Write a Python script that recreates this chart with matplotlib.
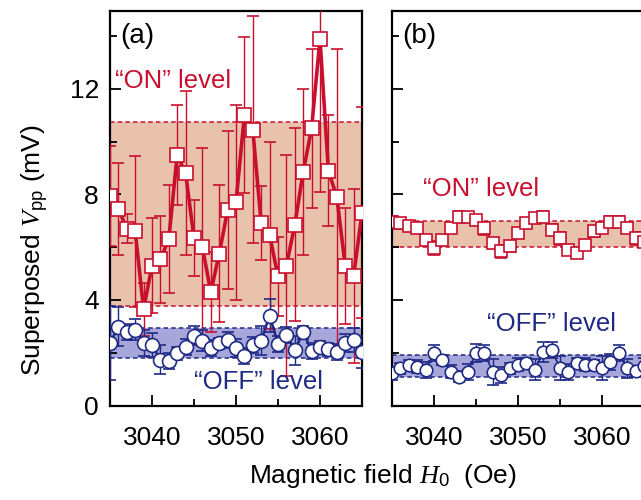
import matplotlib
matplotlib.use("Agg")
import matplotlib.pyplot as plt

plt.rcParams['font.family'] = ['Liberation Sans', 'DejaVu Sans']
plt.rcParams['mathtext.fontset'] = 'custom'
plt.rcParams['mathtext.rm'] = 'Liberation Sans'
plt.rcParams['mathtext.it'] = 'Liberation Serif:italic'

# magnetic field sweep (Oe)
field = [3035, 3036, 3037, 3038, 3039, 3040, 3041, 3042, 3043, 3044,
         3045, 3046, 3047, 3048, 3049, 3050, 3051, 3052, 3053, 3054,
         3055, 3056, 3057, 3058, 3059, 3060, 3061, 3062, 3063, 3064, 3065]

# panel (a): superposed Vpp (mV)
on_a = [7.95, 7.45, 6.7, 6.6, 3.65, 5.3, 5.55, 6.3, 9.5, 8.8,
        6.35, 6.0, 4.3, 5.75, 7.4, 7.7, 11.0, 10.45, 6.9, 6.45,
        4.9, 5.3, 6.85, 8.85, 10.5, 13.9, 8.9, 7.9, 5.3, 4.9, 7.3]
on_a_err = [1.9, 1.75, 0.55, 2.85, 1.0, 1.8, 1.65, 2.05, 1.9, 3.1,
            1.45, 3.75, 1.5, 2.6, 3.0, 3.7, 2.95, 4.3, 1.4, 3.55,
            1.5, 4.2, 3.65, 3.15, 3.0, 5.8, 2.1, 5.6, 2.2, 3.3, 4.0]
off_a = [2.36, 2.99, 2.8, 2.87, 2.38, 2.3, 1.73, 1.69, 1.98, 2.23,
         2.65, 2.46, 2.17, 2.36, 2.49, 2.17, 1.89, 2.3, 2.46, 3.41,
         2.34, 2.68, 2.1, 2.78, 2.07, 2.23, 2.13, 2.02, 2.36, 2.49, 2.04]
off_a_err = [1.4, 0.75, 0.3, 0.4, 0.5, 0.45, 0.55, 0.3, 0.25, 0.3,
             0.35, 0.4, 0.3, 0.2, 0.3, 0.35, 0.3, 0.3, 0.55, 0.62,
             0.3, 0.3, 0.55, 0.25, 0.3, 0.2, 0.25, 0.3, 0.35, 0.45, 0.6]

# panel (b)
on_b = [6.97, 6.9, 6.8, 6.72, 6.28, 5.97, 6.28, 6.72, 7.16, 7.16,
        7.03, 6.72, 6.16, 5.84, 6.03, 6.53, 6.91, 7.1, 7.16, 6.66,
        6.34, 5.9, 5.78, 6.09, 6.6, 6.72, 6.97, 6.97, 6.72, 6.34, 6.2]
on_b_err = [0.2, 0.2, 0.15, 0.2, 0.2, 0.25, 0.2, 0.2, 0.2, 0.15,
            0.2, 0.25, 0.2, 0.25, 0.2, 0.2, 0.15, 0.2, 0.2, 0.2,
            0.25, 0.2, 0.2, 0.2, 0.2, 0.15, 0.2, 0.2, 0.2, 0.25, 0.2]
off_b = [1.22, 1.41, 1.54, 1.47, 1.35, 1.98, 1.73, 1.28, 1.09, 1.28,
         1.98, 1.98, 1.28, 1.16, 1.41, 1.54, 1.6, 1.35, 2.04, 2.1,
         1.41, 1.28, 1.6, 1.54, 1.54, 1.41, 1.66, 1.98, 1.41, 1.3, 1.5]
off_b_err = [0.25, 0.2, 0.2, 0.25, 0.3, 0.3, 0.2, 0.25, 0.2, 0.3,
             0.35, 0.3, 0.5, 0.3, 0.2, 0.25, 0.2, 0.4, 0.38, 0.3,
             0.45, 0.3, 0.2, 0.25, 0.2, 0.45, 0.3, 0.3, 0.35, 0.2, 0.3]

# level bands (lower, upper)
on_band_a = (3.78, 10.73)
off_band_a = (1.8, 2.94)
on_band_b = (6.0, 7.01)
off_band_b = (1.07, 1.92)

RED = '#c8102e'
BLUE = '#1f2a85'
RED_FILL = '#e8c2ab'
BLUE_FILL = '#a6a6da'

fig = plt.figure(figsize=(6.41, 5.0), dpi=100)
ax_a = fig.add_axes([110/641, 1-405.5/500, 252/641, 394.5/500])
ax_b = fig.add_axes([392/641, 1-405.5/500, 252/641, 394.5/500])


def draw_panel(ax, on, on_err, off, off_err, on_band, off_band, sq_lw, c_lw, ms):
    ax.axhspan(on_band[0], on_band[1], color=RED_FILL, lw=0, zorder=0)
    ax.axhspan(off_band[0], off_band[1], color=BLUE_FILL, lw=0, zorder=0)
    for y in on_band:
        ax.axhline(y, color=RED, lw=1.1, ls=(0, (3, 2)), zorder=1)
    for y in off_band:
        ax.axhline(y, color=BLUE, lw=1.1, ls=(0, (3, 2)), zorder=1)
    ax.errorbar(field, on, yerr=on_err, color=RED, lw=sq_lw, marker='s', ms=ms,
                mfc='white', mec=RED, mew=1.2, ecolor=RED, elinewidth=1.0,
                capsize=4.5, capthick=1.0, zorder=3)
    ax.errorbar(field, off, yerr=off_err, color=BLUE, lw=c_lw, marker='o', ms=ms + 0.5,
                mfc='white', mec=BLUE, mew=1.2, ecolor=BLUE, elinewidth=1.0,
                capsize=4.5, capthick=1.0, zorder=4)
    ax.set_xlim(3035, 3065)
    ax.set_ylim(0, 14.95)
    ax.set_xticks([3040, 3050, 3060])
    ax.set_xticks([3045, 3055], minor=True)
    ax.set_yticks([0, 4, 8, 12])
    ax.set_yticks([2, 6, 10, 14], minor=True)
    ax.tick_params(which='both', direction='in', top=False, right=False,
                   width=1.3, labelsize=19)
    ax.tick_params(which='major', length=8)
    ax.tick_params(which='minor', length=5)
    ax.tick_params(axis='x', pad=15)
    ax.tick_params(axis='y', pad=8)
    for sp in ax.spines.values():
        sp.set_linewidth(1.6)


draw_panel(ax_a, on_a, on_a_err, off_a, off_a_err, on_band_a, off_band_a, 2.6, 1.8, 9.5)
draw_panel(ax_b, on_b, on_b_err, off_b, off_b_err, on_band_b, off_band_b, 1.0, 1.2, 8.5)
ax_b.set_yticklabels([])

ax_a.text(0.04, 0.97, '(a)', transform=ax_a.transAxes, fontsize=20, va='top', ha='left')
ax_b.text(0.04, 0.97, '(b)', transform=ax_b.transAxes, fontsize=20, va='top', ha='left')

ax_a.text(3035.6, 12.3, '\u201cON\u201d level', color=RED, fontsize=18.5, va='center', ha='left')
ax_a.text(3045.0, 0.9, '\u201cOFF\u201d level', color=BLUE, fontsize=18.5, va='center', ha='left')
ax_b.text(3038.7, 8.2, '\u201cON\u201d level', color=RED, fontsize=18.5, va='center', ha='left')
ax_b.text(3046.3, 3.1, '\u201cOFF\u201d level', color=BLUE, fontsize=18.5, va='center', ha='left')

fig.text(35/641, 1-250/500, r'Superposed $V_{\mathrm{pp}}$ (mV)', rotation=90,
         fontsize=19, ha='center', va='center')
fig.text(383/641, 1-476/500, r'Magnetic field $H_{0}$  (Oe)', fontsize=19,
         ha='center', va='center')

fig.savefig('out.png', dpi=100)
